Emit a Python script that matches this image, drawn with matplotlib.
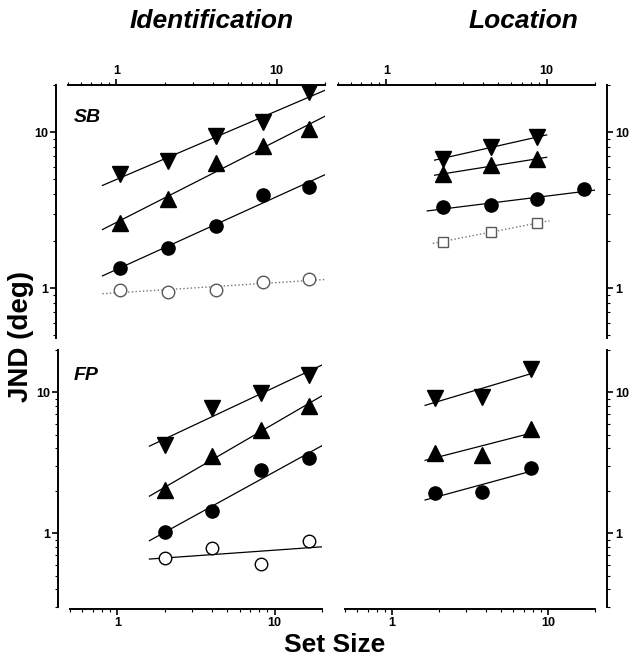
import numpy as np
import matplotlib
matplotlib.use("Agg")
import matplotlib.pyplot as plt
from matplotlib.ticker import LogLocator, NullFormatter, FixedFormatter, FixedLocator

plt.rcParams['font.family'] = ['Liberation Sans', 'DejaVu Sans']

# ---- data (set size vs JND, deg) ----
# Identification, SB
id_sb_x = [1.05, 2.1, 4.2, 8.2, 16]
id_sb_down = [5.36, 6.53, 9.38, 11.55, 18.0]
id_sb_up = [2.61, 3.70, 6.38, 8.09, 10.45]
id_sb_fill = [1.34, 1.82, 2.52, 3.98, 4.44]
id_sb_open = [0.98, 0.95, 0.97, 1.10, 1.14]

# Location, SB
loc_sb_x = [2.25, 4.5, 8.75]
loc_sb_xc = [2.25, 4.5, 8.75, 17.1]
loc_sb_down = [6.76, 8.04, 9.25]
loc_sb_up = [5.36, 6.12, 6.70]
loc_sb_fill = [3.30, 3.43, 3.70, 4.29]
loc_sb_sq = [1.99, 2.29, 2.61]

# Identification, FP
id_fp_x = [2, 4, 8.2, 16.5]
id_fp_down = [4.25, 7.69, 9.95, 13.4]
id_fp_up = [2.03, 3.51, 5.44, 8.07]
id_fp_fill = [1.02, 1.44, 2.82, 3.45]
id_fp_open = [0.667, 0.785, 0.607, 0.877]

# Location, FP
loc_fp_x = [1.9, 3.8, 7.8]
loc_fp_down = [9.17, 9.26, 14.6]
loc_fp_up = [3.71, 3.61, 5.53]
loc_fp_fill = [1.92, 1.97, 2.93]

W, H = 630, 658
fig = plt.figure(figsize=(W / 100, H / 100), dpi=100)


def px_axes(x0, x1, y0, y1):
    return fig.add_axes([x0 / W, 1 - y1 / H, (x1 - x0) / W, (y1 - y0) / H])


def fit_line(ax, x, y, xr, **kw):
    b, a = np.polyfit(np.log10(x), np.log10(y), 1)
    xs = np.logspace(np.log10(xr[0]), np.log10(xr[1]), 50)
    ax.plot(xs, 10 ** (a + b * np.log10(xs)), **kw)


def style(ax, top, left, ylim):
    ax.set_xscale('log')
    ax.set_yscale('log')
    ax.set_xlim(0.5, 20)
    ax.set_ylim(*ylim)
    for s in ax.spines.values():
        s.set_visible(False)
        s.set_linewidth(1.4)
    xs = 'top' if top else 'bottom'
    ys = 'left' if left else 'right'
    ax.spines[xs].set_visible(True)
    ax.spines[ys].set_visible(True)
    ax.spines[ys].set_position(('outward', 8.5))
    if not top:
        ax.spines[xs].set_position(('outward', 1.5))
    ax.xaxis.set_ticks_position(xs)
    ax.yaxis.set_ticks_position(ys)
    for axis in (ax.xaxis, ax.yaxis):
        axis.set_major_locator(FixedLocator([1, 10]))
        axis.set_major_formatter(FixedFormatter(['1', '10']))
        axis.set_minor_locator(LogLocator(base=10, subs=np.arange(2, 10)))
        axis.set_minor_formatter(NullFormatter())
    ax.tick_params(which='major', length=4, width=1.2, labelsize=9, pad=2)
    ax.tick_params(which='minor', length=2, width=0.8)
    for lab in ax.get_xticklabels() + ax.get_yticklabels():
        lab.set_fontweight('bold')
    ax.patch.set_visible(False)


solid = dict(color='black', lw=0.9)
dotted = dict(color='0.45', lw=1.0, ls=':')
down = dict(marker='v', ms=11, color='black', ls='none')
up = dict(marker='^', ms=11, color='black', ls='none')
fill = dict(marker='o', ms=9.5, color='black', ls='none')


def open_mk(edge, m='o', ms=9):
    return dict(marker=m, ms=ms, mfc='white', mec=edge, mew=1.0, ls='none')


# top-left
ax = px_axes(68, 325, 85, 338)
style(ax, True, True, (0.48, 20))
for yv in (id_sb_down, id_sb_up, id_sb_fill):
    fit_line(ax, id_sb_x, yv, (0.82, 20), **solid)
fit_line(ax, id_sb_x, id_sb_open, (0.82, 20), **dotted)
ax.plot(id_sb_x, id_sb_down, **down)
ax.plot(id_sb_x, id_sb_up, **up)
ax.plot(id_sb_x, id_sb_fill, **fill)
ax.plot(id_sb_x, id_sb_open, **open_mk('0.35'))
ax.text(74 / W, 1 - 117 / H, 'SB', transform=fig.transFigure, fontsize=14,
        fontweight='bold', style='italic', va='center')

# top-right
ax = px_axes(338, 595, 85, 338)
style(ax, True, False, (0.48, 20))
fit_line(ax, loc_sb_x, loc_sb_down, (2.0, 10.0), **solid)
fit_line(ax, loc_sb_x, loc_sb_up, (2.0, 10.0), **solid)
fit_line(ax, loc_sb_xc, loc_sb_fill, (1.8, 20), **solid)
fit_line(ax, loc_sb_x, loc_sb_sq, (1.95, 10.4), **dotted)
ax.plot(loc_sb_x, loc_sb_down, **down)
ax.plot(loc_sb_x, loc_sb_up, **up)
ax.plot(loc_sb_xc, loc_sb_fill, **fill)
ax.plot(loc_sb_x, loc_sb_sq, **open_mk('0.35', 's', 7.5))

# bottom-left
ax = px_axes(70, 322, 350, 607)
style(ax, False, True, (0.3, 20))
for yv in (id_fp_down, id_fp_up, id_fp_fill, id_fp_open):
    fit_line(ax, id_fp_x, yv, (1.6, 20), **solid)
ax.plot(id_fp_x, id_fp_down, **down)
ax.plot(id_fp_x, id_fp_up, **up)
ax.plot(id_fp_x, id_fp_fill, **fill)
ax.plot(id_fp_x, id_fp_open, **open_mk('black'))
ax.text(74 / W, 1 - 375 / H, 'FP', transform=fig.transFigure, fontsize=14,
        fontweight='bold', style='italic', va='center')

# bottom-right
ax = px_axes(345, 595, 350, 607)
style(ax, False, False, (0.3, 20))
for yv in (loc_fp_down, loc_fp_up, loc_fp_fill):
    fit_line(ax, loc_fp_x, yv, (1.63, 8.05), **solid)
ax.plot(loc_fp_x, loc_fp_down, **down)
ax.plot(loc_fp_x, loc_fp_up, **up)
ax.plot(loc_fp_x, loc_fp_fill, **fill)

# titles and axis labels
fig.text(212 / W, 1 - 21 / H, 'Identification', fontsize=19, fontweight='bold',
         style='italic', ha='center', va='center')
fig.text(523 / W, 1 - 21 / H, 'Location', fontsize=19, fontweight='bold',
         style='italic', ha='center', va='center')
fig.text(21 / W, 1 - 336 / H, 'JND (deg)', fontsize=20, fontweight='bold',
         rotation=90, ha='center', va='center')
fig.text(335 / W, 1 - 645 / H, 'Set Size', fontsize=19, fontweight='bold',
         ha='center', va='center')

fig.savefig('out.png', dpi=100)
